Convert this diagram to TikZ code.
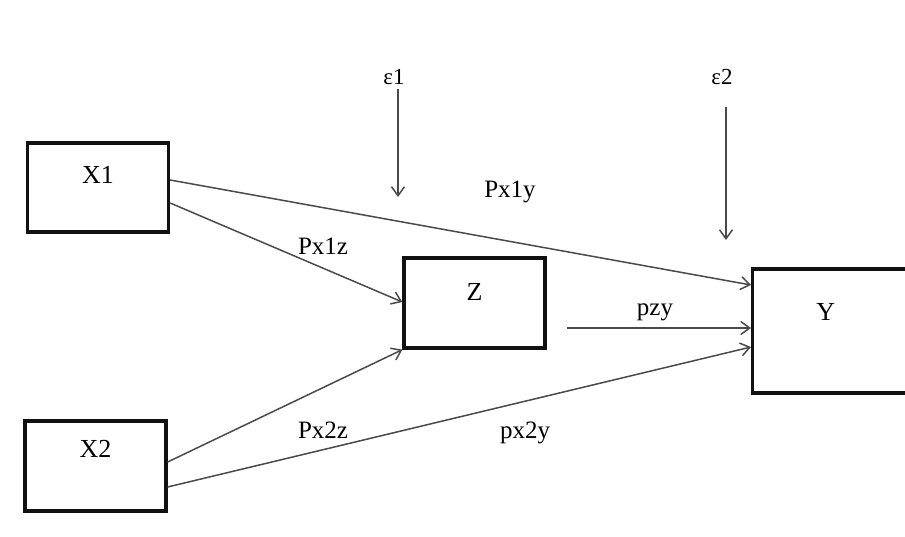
\documentclass[tikz,border=0pt]{standalone}
\usepackage{fontspec}
\setmainfont{Liberation Serif}
\usepackage{tikz}
\usetikzlibrary{
  arrows.meta,
  positioning,
  calc
}
\definecolor{pathLine}{HTML}{4A4A4A}
\definecolor{pathBox}{HTML}{111111}
\tikzset{
  varbox/.style={
    draw=pathBox, line width=3.3pt, minimum width=141pt, minimum height=89pt,
    font=\fontsize{26}{30}\selectfont, align=center
  },
  path/.style={-{Straight Barb[length=9pt, width=13pt]}, line width=1.5pt, pathLine},
  effect/.style={path},
  coef/.style={font=\fontsize{25}{29}\selectfont, inner sep=1pt},
  errlabel/.style={font=\fontsize{23}{27}\selectfont, inner sep=2pt}
}
\begin{document}
\begin{tikzpicture}[x=1pt, y=-1pt]
  \useasboundingbox (0,0) rectangle (905,537);
  \node[varbox, text depth=26pt] (x1) at (98,187.5) {X1};
  \node[varbox, text depth=34pt, minimum width=141pt, minimum height=90pt] (x2) at (95.5,466) {X2};
  \node[varbox, text depth=22pt, minimum height=90pt] (z) at (474.5,303) {Z};
  \node[varbox, text depth=38pt, minimum width=170pt, minimum height=124pt, anchor=west] (y) at (751,331) {Y\hspace*{24pt}};
  \node[errlabel] (e1) at (394,77) {ε1};
  \node[errlabel] (e2) at (722,77) {ε2};
  \coordinate (e1tip) at (398,197);
  \coordinate (e2tip) at (726,240);
  \draw[effect, shorten <=2pt] (e1.south -| e1tip) -- (e1tip);
  \draw[effect, shorten <=20pt] (e2.south -| e2tip) -- (e2tip);
  % direct and indirect paths
  \draw[path] ([yshift=7.5pt]x1.east) -- ([yshift=46pt]y.west);
  \draw[path] ([yshift=-15.5pt]x1.east) -- ([yshift=1pt]z.west);
  \draw[path] ([yshift=4pt]x2.east) -- (z.south west);
  \draw[path] ([yshift=-21pt]x2.east) -- ([yshift=-16pt]y.west);
  \draw[path] ([xshift=20pt, yshift=-25pt]z.east) -- ([yshift=3pt]y.west);
  \node[coef] (px1y) at (510,192) {Px1y};
  \node[coef] (px1z) at (323,246) {Px1z};
  \node[coef] (px2z) at (323,430) {Px2z};
  \node[coef] (px2y) at (525,433) {px2y};
  \node[coef] (pzy) at (655,312) {pzy};
\end{tikzpicture}
\end{document}
